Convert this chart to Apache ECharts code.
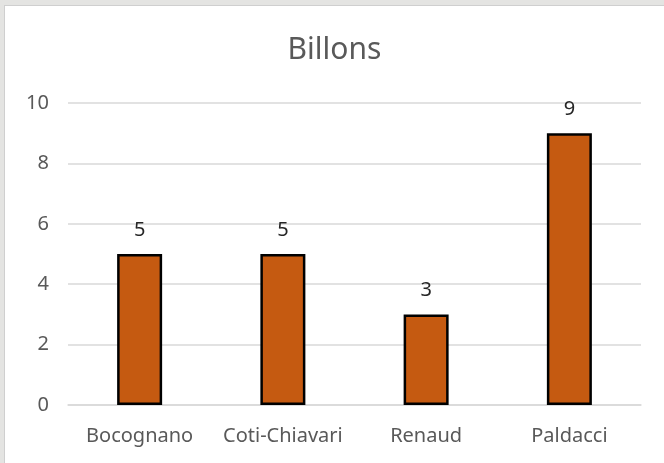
<!DOCTYPE html>
<html>
<head>
<meta charset="utf-8">
<script src="https://cdn.jsdelivr.net/npm/echarts@6/dist/echarts.min.js"></script>
<style>
  html, body { margin: 0; padding: 0; background: #e4e4e2; }
  #main {
    position: absolute; left: 4px; top: 5px;
    width: 660px; height: 458px;
    background: #fff;
    border-left: 1px solid #cfcfcf; border-top: 1px solid #cfcfcf;
    box-sizing: border-box;
  }
</style>
</head>
<body>
<div id="main"></div>
<script>
  var names = ['Bocognano', 'Coti-Chiavari', 'Renaud', 'Paldacci'];
  var values = [5, 5, 3, 9];

  var myChart = echarts.init(document.getElementById('main'));

  var font = '"Noto Sans", sans-serif';

  var option = {
    animation: false,
    title: {
      text: 'Billons',
      left: 'center',
      top: 24,
      textStyle: { fontFamily: font, fontSize: 30, fontWeight: 'normal', color: '#595959' }
    },
    grid: { left: 63, right: 23, top: 97, bottom: 58 },
    xAxis: {
      type: 'category',
      data: names,
      axisLine: { lineStyle: { color: '#d9d9d9', width: 1.5 } },
      axisTick: { show: false },
      axisLabel: { interval: 0, fontFamily: font, fontSize: 20, color: '#595959', margin: 21 }
    },
    yAxis: {
      type: 'value',
      min: 0,
      max: 10,
      interval: 2,
      axisLine: { show: false },
      axisTick: { show: false },
      splitLine: { lineStyle: { color: '#d9d9d9', width: 1.5 } },
      axisLabel: { fontFamily: font, fontSize: 20, color: '#595959', margin: 19 }
    },
    series: [
      {
        type: 'bar',
        data: values,
        barWidth: 45,
        itemStyle: { color: '#c55a11', borderColor: '#000', borderWidth: 2.5 },
        label: {
          show: true,
          position: 'top',
          distance: 14,
          fontFamily: font,
          fontSize: 20,
          color: '#262626'
        }
      }
    ]
  };

  myChart.setOption(option);
</script>
</body>
</html>
